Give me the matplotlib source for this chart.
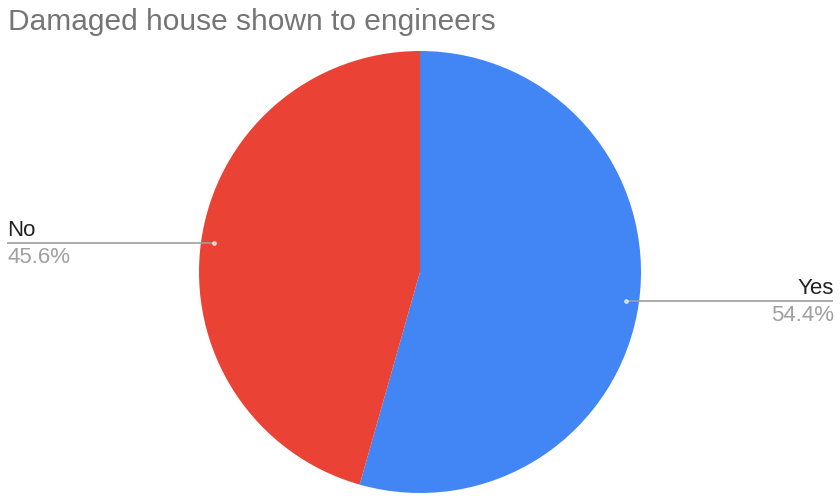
import matplotlib
matplotlib.use("Agg")
import matplotlib.pyplot as plt
import numpy as np

labels = ["Yes", "No"]
values = [54.4, 45.6]
colors = ["#4285f4", "#ea4335"]
title = "Damaged house shown to engineers"

W, H = 840, 498
fig = plt.figure(figsize=(W / 100, H / 100), dpi=100)
ax = fig.add_axes([0, 0, 1, 1])
ax.set_xlim(0, W)
ax.set_ylim(0, H)
ax.axis("off")

cx, cy, r = 420, H - 272, 221
wedges, _ = ax.pie(values, colors=colors, startangle=90, counterclock=False,
                   center=(cx, cy), radius=r, frame=True,
                   wedgeprops=dict(linewidth=0))
ax.set_xlim(0, W)
ax.set_ylim(0, H)
ax.set_aspect("equal", adjustable="box")
ax.axis("off")

font = "Liberation Sans"
fig.text(8 / W, 1 - 30 / H, title, fontsize=21.5, color="#757575",
         family=font, ha="left", va="baseline")

total = sum(values)
start = 90.0
for lab, v, w in zip(labels, values, wedges):
    ang = start - v / total * 360 / 2
    start -= v / total * 360
    a = np.deg2rad(ang)
    px, py = cx + 0.94 * r * np.cos(a), cy + 0.94 * r * np.sin(a)
    pct = f"{v:.1f}%"
    if np.cos(a) < 0:
        x0, x1 = 7, px
        tx, ha = 7, "left"
    else:
        x0, x1 = px, 833
        tx, ha = 834, "right"
    ax.plot([x0, x1], [py, py], color="#9e9e9e", lw=1.2, solid_capstyle="butt")
    ax.plot([px], [py], "o", ms=2.5, color="#f0f0f0", alpha=0.7)
    ax.text(tx, py + 7, lab, fontsize=16, color="#222222", family=font,
            ha=ha, va="baseline")
    ax.text(tx, py - 20, pct, fontsize=16, color="#a0a0a0", family=font,
            ha=ha, va="baseline")

fig.savefig("out.png", dpi=100)
